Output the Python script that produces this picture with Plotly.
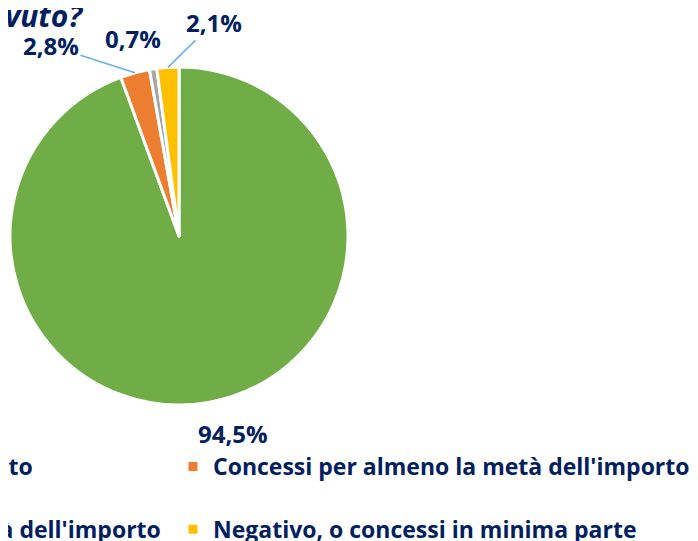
import math
import plotly.graph_objects as go

# Esito delle richieste di credito
labels = [
    "Concessi per l'importo richiesto",
    "Concessi per almeno la metà dell'importo",
    "Concessi per meno della metà dell'importo",
    "Negativo, o concessi in minima parte",
]
values = [94.5, 2.8, 0.7, 2.1]
colors = ["#70AD47", "#ED7D31", "#A5A5A5", "#FFC000"]

title_text = "Che tipo di risposta ha ricevuto?"
navy = "#002060"
line_blue = "#6AAEF0"
font = "Open Sans"

# canvas is wider than the window: the legend needs room for two columns
W, H = 1300, 541
B = 110                 # bottom margin, legend sits below the plot area
PH = H - B              # plot area height


def px(x):
    return x / W


def py(y):
    return 1 - y / PH


# pie geometry (svg pixels)
cx, cy, r = 171, 228, 169

fig = go.Figure()
fig.add_trace(go.Pie(
    labels=[lab + "<br> " for lab in labels],
    values=values,
    sort=False,
    direction="clockwise",
    rotation=0,
    marker=dict(colors=colors, line=dict(color="white", width=3)),
    textinfo="none",
    domain=dict(x=[px(cx - r), px(cx + r)], y=[py(cy + r), py(cy - r)]),
    hoverinfo="label+value",
))

# value labels, placed relative to the middle of each slice's rim
total = sum(values)
label_style = [dict(dx=24, dy=31, arrow=False),
               dict(dx=-84, dy=-27, arrow=True),
               dict(dx=-20, dy=-30, arrow=False),
               dict(dx=46, dy=-45, arrow=True)]
cum = 0
for v, st in zip(values, label_style):
    mid = (cum + v / 2) / total * 2 * math.pi
    cum += v
    ex = cx + r * math.sin(mid)
    ey = cy - r * math.cos(mid)
    ann = dict(
        x=px(ex), y=py(ey), xref="paper", yref="paper",
        xanchor="center", yanchor="middle",
        text=f"{v:.1f}%".replace(".", ","),
        font=dict(family=font, size=24, color=navy, weight="bold"),
    )
    if st["arrow"]:
        ann.update(showarrow=True, ax=st["dx"], ay=st["dy"], arrowhead=0,
                   arrowwidth=1.5, arrowcolor=line_blue, standoff=0)
    else:
        ann.update(showarrow=False, xshift=st["dx"], yshift=-st["dy"])
    fig.add_annotation(**ann)

fig.update_layout(
    width=W, height=H,
    separators=",.",
    margin=dict(l=0, r=0, t=0, b=B, autoexpand=False),
    paper_bgcolor="white",
    plot_bgcolor="white",
    title=dict(
        text=title_text,
        x=px(74), xanchor="right", xref="paper",
        y=1 - 8 / H, yanchor="middle", yref="container",
        font=dict(family=font, size=30, color=navy, weight="bold", style="italic"),
    ),
    legend=dict(
        orientation="h",
        x=px(-378), xanchor="left",
        y=-(437 - PH) / PH, yanchor="top",
        entrywidth=498,
        valign="top",
        font=dict(family=font, size=23, color=navy, weight="bold"),
    ),
)

fig.write_html("out.html")
